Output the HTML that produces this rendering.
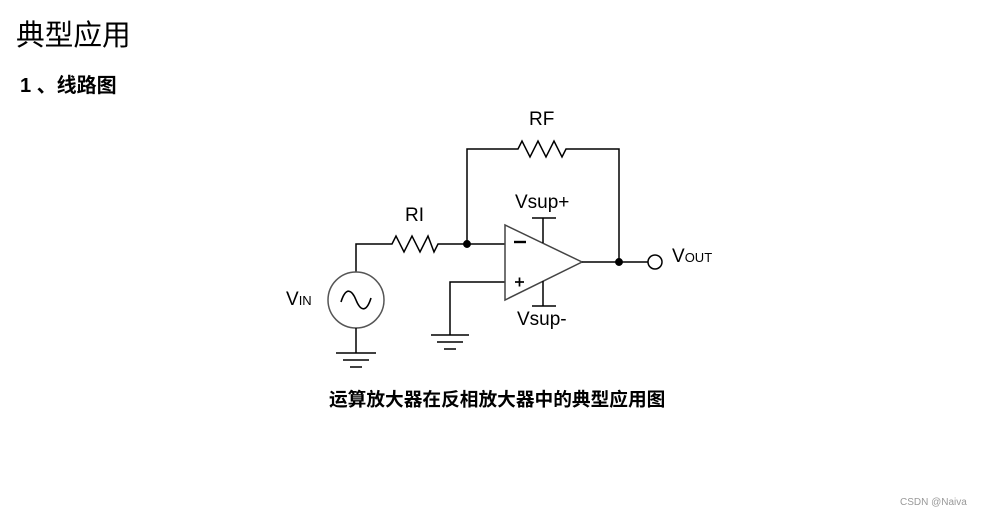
<!DOCTYPE html>
<html><head><meta charset="utf-8"><style>
body{margin:0;width:982px;height:517px;background:#fff;position:relative;overflow:hidden;font-family:"Liberation Sans","Noto Sans CJK SC",sans-serif;}
.t{position:absolute;white-space:nowrap;color:#000;}
</style></head><body>
<div class="t" style="left:16px;top:19px;font-size:28.7px;line-height:34px;">典型应用</div>
<div class="t" style="left:20px;top:73px;font-size:20px;line-height:26px;font-weight:bold;">1 、线路图</div>
<div class="t" style="left:329px;top:389px;font-size:18.7px;line-height:22px;font-weight:bold;">运算放大器在反相放大器中的典型应用图</div>
<div class="t" style="left:900px;top:497px;font-size:10px;color:#999;">CSDN @Naiva</div>
<svg width="982" height="517" style="position:absolute;left:0;top:0" fill="none" stroke="#000" stroke-width="1.5">
<polyline points="467,244 467,149 518,149 522,141 530,157 538,141 546,157 554,141 562,157 566,149 619,149 619,262"/>
<polyline points="356,272 356,244 392,244 396,236 404,252 412,236 420,252 428,236 434,252 438,244 505,244"/>
<circle cx="467" cy="244" r="3.2" fill="#000"/>
<circle cx="356" cy="300" r="28" stroke="#555"/>
<path d="M341,302 C346,286 352,290 356,300 C360,310 366,314 371,298" stroke-width="1.6"/>
<line x1="356" y1="328" x2="356" y2="353"/>
<line x1="336" y1="353" x2="376" y2="353"/>
<line x1="343" y1="360" x2="369" y2="360"/>
<line x1="350" y1="367" x2="362" y2="367"/>
<polyline points="505,282 450,282 450,335"/>
<line x1="431" y1="335" x2="469" y2="335"/>
<line x1="437" y1="342" x2="463" y2="342"/>
<line x1="444" y1="349" x2="456" y2="349"/>
<polygon points="505,225 505,300 582,262" stroke="#444"/>
<line x1="543" y1="218" x2="543" y2="243"/>
<line x1="532" y1="218" x2="556" y2="218"/>
<line x1="543" y1="281" x2="543" y2="306"/>
<line x1="532" y1="306" x2="556" y2="306"/>
<line x1="514" y1="242" x2="526" y2="242" stroke-width="2.4"/>
<line x1="515" y1="282" x2="524" y2="282" stroke-width="1.7"/>
<line x1="519.5" y1="277.5" x2="519.5" y2="286.5" stroke-width="1.7"/>
<line x1="582" y1="262" x2="648" y2="262"/>
<circle cx="619" cy="262" r="3.2" fill="#000"/>
<circle cx="655" cy="262" r="7" fill="#fff"/>
</svg>
<div class="t" style="left:529px;top:109px;font-size:19px;">RF</div>
<div class="t" style="left:405px;top:205px;font-size:19px;">RI</div>
<div class="t" style="left:515px;top:192px;font-size:19px;">Vsup+</div>
<div class="t" style="left:517px;top:309px;font-size:19px;">Vsup-</div>
<div class="t" style="left:672px;top:246px;font-size:19px;">V<span style="font-size:13px">OUT</span></div>
<div class="t" style="left:286px;top:289px;font-size:19px;">V<span style="font-size:13px">IN</span></div>
</body></html>
